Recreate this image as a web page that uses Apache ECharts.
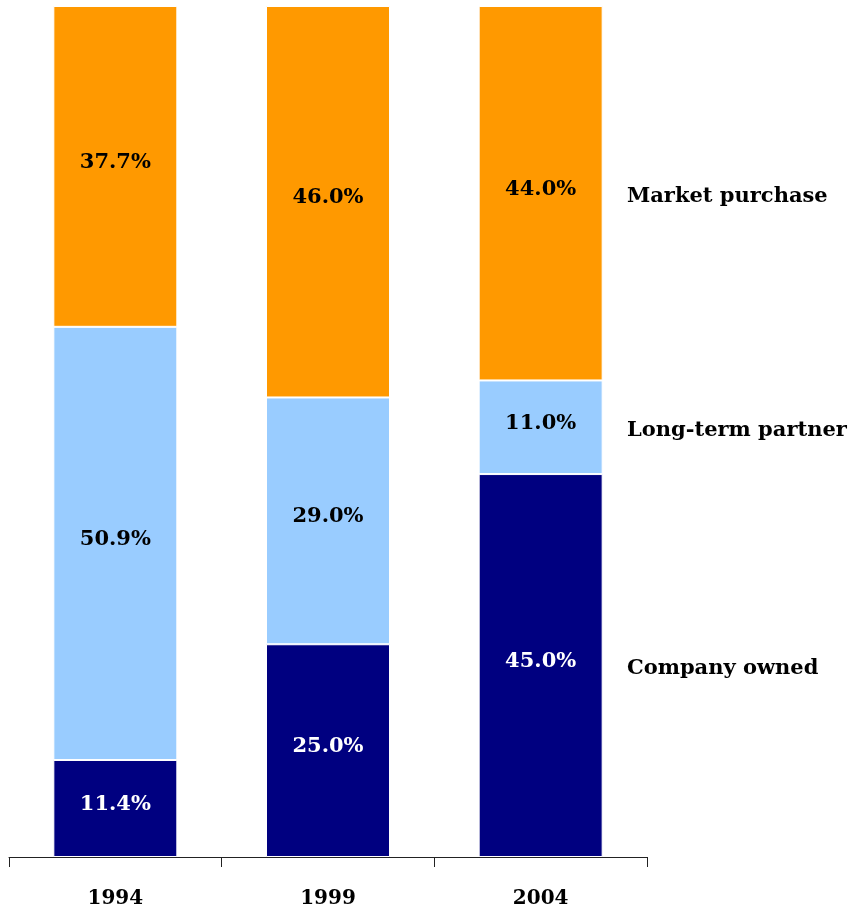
<!DOCTYPE html>
<html>
<head>
<meta charset="utf-8">
<script src="https://cdn.jsdelivr.net/npm/echarts@6/dist/echarts.min.js"></script>
<style>
    html, body { margin: 0; padding: 0; background: #fff; }
    #chart { width: 851px; height: 911px; }
</style>
</head>
<body>
<div id="chart"></div>
<script>
// years on the x axis
const years = ['1994', '1999', '2004'];
// shares (%) per source, bottom to top
const companyOwned = [11.4, 25.0, 45.0];
const longTermPartner = [50.9, 29.0, 11.0];
const marketPurchase = [37.7, 46.0, 44.0];
const seriesNames = ['Company owned', 'Long-term partner', 'Market purchase'];

const FONT = 'DejaVu Serif';
const colors = ['#000080', '#99CCFF', '#FF9900'];
const labelColors = ['#ffffff', '#000000', '#000000'];

const chart = echarts.init(document.getElementById('chart'));

function makeSeries(name, data, i) {
    return {
        name: name,
        type: 'bar',
        stack: 'total',
        data: data,
        barWidth: 124,
        itemStyle: { color: colors[i], borderColor: '#ffffff', borderWidth: 1 },
        label: {
            show: true,
            position: 'inside',
            offset: [0, -4],
            formatter: p => p.value.toFixed(1) + '%',
            color: labelColors[i],
            fontFamily: FONT,
            fontWeight: 'bold',
            fontSize: 21
        },
        emphasis: { disabled: true }
    };
}

chart.setOption({
    animation: false,
    grid: { left: 9, right: 204, top: 6, bottom: 54 },
    xAxis: {
        type: 'category',
        data: years,
        axisLine: { lineStyle: { color: '#222', width: 1 } },
        axisTick: { show: true, length: 10, lineStyle: { color: '#222' } },
        axisLabel: { margin: 32, color: '#000', fontFamily: FONT, fontWeight: 'bold', fontSize: 20 }
    },
    yAxis: {
        type: 'value',
        min: 0,
        max: 100,
        show: false
    },
    series: [
        makeSeries(seriesNames[0], companyOwned, 0),
        makeSeries(seriesNames[1], longTermPartner, 1),
        makeSeries(seriesNames[2], marketPurchase, 2)
    ]
});

// series names to the right, beside the last bar's segments
const last = years.length - 1;
const stacks = [companyOwned, longTermPartner, marketPurchase];
let base = 0;
const texts = [];
stacks.forEach((arr, i) => {
    const mid = base + arr[last] / 2;
    base += arr[last];
    const pt = chart.convertToPixel({ gridIndex: 0 }, [last, mid]);
    texts.push({
        type: 'text',
        x: 627,
        y: pt[1] + 3,
        style: {
            text: seriesNames[i],
            fill: '#000',
            font: 'bold 21px "' + FONT + '"',
            verticalAlign: 'middle'
        }
    });
});
chart.setOption({ graphic: texts });
</script>
</body>
</html>
